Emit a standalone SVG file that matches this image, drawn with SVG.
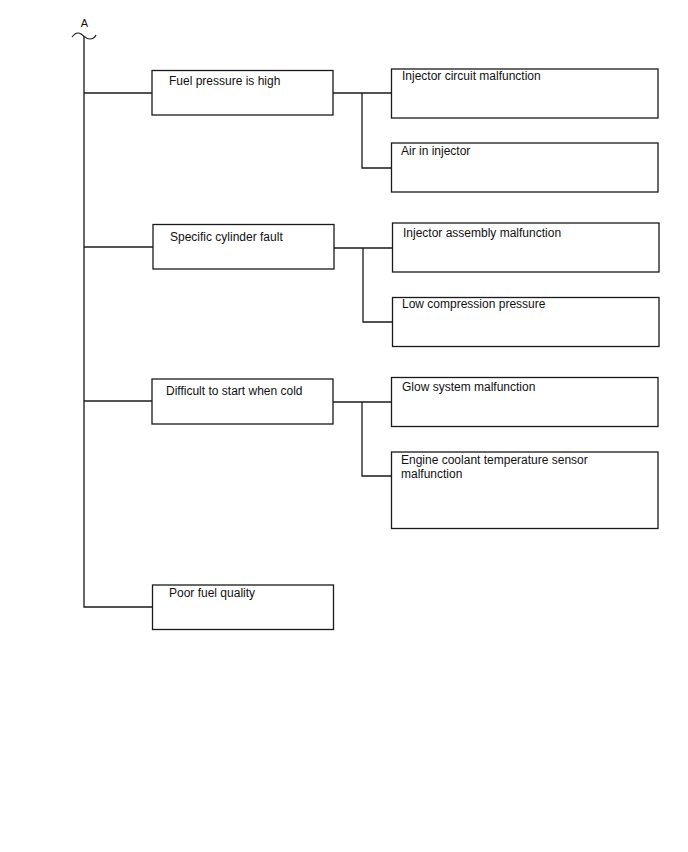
<svg xmlns="http://www.w3.org/2000/svg" width="688" height="852" viewBox="0 0 688 852">
<style>
.box rect{fill:#fff;stroke:#1a1a1a;stroke-width:1.3}
text{font-family:"Liberation Sans",Arial,sans-serif;font-size:12px;fill:#111}
.conn path{fill:none;stroke:#1a1a1a;stroke-width:1.3}
</style>
<rect width="688" height="852" fill="#fff"/>
<g id="start">
<text x="84.5" y="27" text-anchor="middle" style="font-size:11px">A</text>
<path d="M72,37 C75,33 78,32 81,34 C84,36 86,39 90,39 C93,39 95,37 96,35" fill="none" stroke="#1a1a1a" stroke-width="1.2"/>
</g>
<g class="conn" id="connectors">
<path d="M84,36 V607 H152"/>
<path d="M84,93 H152"/>
<path d="M84,247 H153"/>
<path d="M84,401 H152"/>
<path d="M333,93 H391"/>
<path d="M362,93 V168 H391"/>
<path d="M334,248 H392"/>
<path d="M363,248 V322 H392"/>
<path d="M333,402 H391"/>
<path d="M362,402 V476 H391"/>
</g>
<g class="box" id="n1"><rect x="152" y="70.5" width="181" height="44.5"/><text x="169" y="85">Fuel pressure is high</text></g>
<g class="box" id="n2"><rect x="391.5" y="69" width="266.5" height="49"/><text x="402" y="80">Injector circuit malfunction</text></g>
<g class="box" id="n3"><rect x="391.5" y="143" width="266.5" height="49"/><text x="401" y="155">Air in injector</text></g>
<g class="box" id="n4"><rect x="153" y="224.5" width="181" height="44.5"/><text x="170" y="241">Specific cylinder fault</text></g>
<g class="box" id="n5"><rect x="392.5" y="223" width="266.5" height="49"/><text x="403" y="237">Injector assembly malfunction</text></g>
<g class="box" id="n6"><rect x="392.5" y="297.5" width="266.5" height="49"/><text x="402" y="308">Low compression pressure</text></g>
<g class="box" id="n7"><rect x="152" y="379" width="181" height="45"/><text x="166" y="395">Difficult to start when cold</text></g>
<g class="box" id="n8"><rect x="391.5" y="377.5" width="266.5" height="49"/><text x="402" y="391">Glow system malfunction</text></g>
<g class="box" id="n9"><rect x="391.5" y="452" width="266.5" height="76.5"/><text x="401" y="464">Engine coolant temperature sensor</text><text x="401" y="478">malfunction</text></g>
<g class="box" id="n10"><rect x="152.5" y="585" width="181" height="44.5"/><text x="169" y="597">Poor fuel quality</text></g>
</svg>
